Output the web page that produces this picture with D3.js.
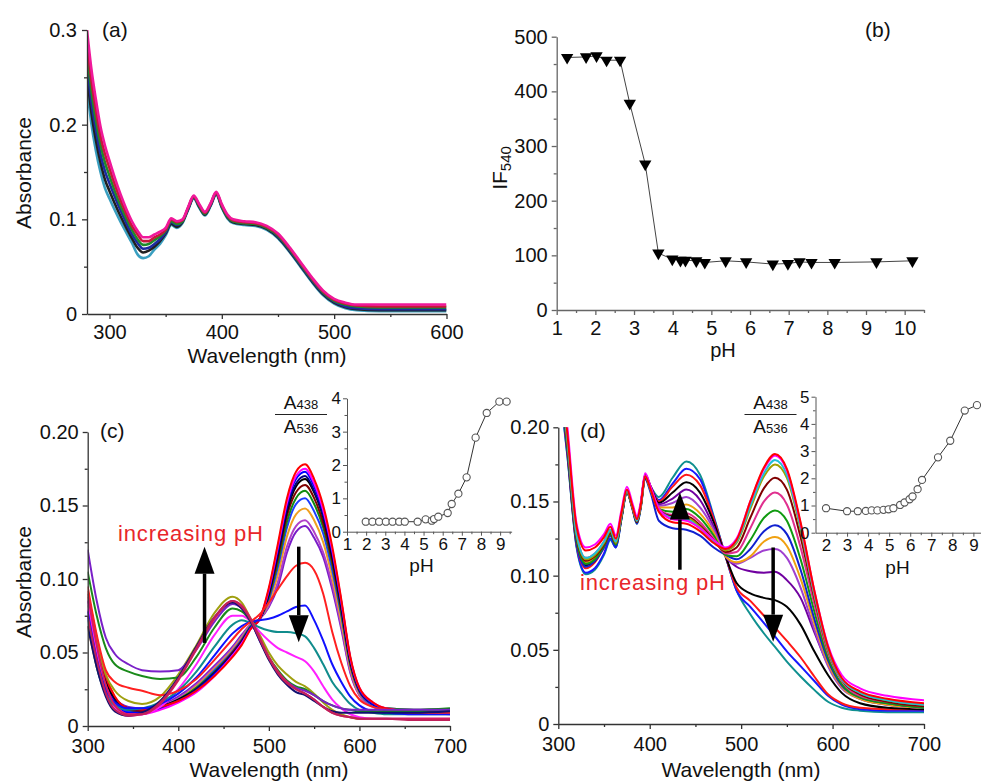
<!DOCTYPE html>
<html>
<head>
<meta charset="utf-8">
<script src="https://cdn.jsdelivr.net/npm/d3@7"></script>
<style>
  body { margin: 0; background: #fff; }
  svg { font-family: "Liberation Sans", Arial, Helvetica, sans-serif; }
</style>
</head>
<body>
<script>
// ---------- panel (a): absorbance spectra ----------
const wlA = [280, 284, 288, 292, 296, 300, 305, 310, 315, 320, 325, 330, 335, 340, 345, 350, 355, 360, 365, 370, 375, 380, 385, 390, 395, 400, 405, 410, 420, 430, 440, 450, 460, 470, 480, 490, 500, 510, 520, 540, 560, 580, 600];
const specA = [
  [0.240,0.200,0.172,0.150,0.133,0.122,0.109,0.097,0.086,0.075,0.063,0.059,0.061,0.068,0.074,0.083,0.094,0.091,0.096,0.110,0.122,0.112,0.104,0.114,0.126,0.112,0.101,0.096,0.094,0.093,0.089,0.080,0.066,0.050,0.034,0.020,0.011,0.006,0.004,0.003,0.003,0.003,0.003],
  [0.252,0.212,0.183,0.160,0.142,0.130,0.116,0.103,0.091,0.080,0.070,0.065,0.067,0.071,0.077,0.085,0.095,0.092,0.097,0.111,0.123,0.113,0.105,0.115,0.127,0.113,0.102,0.097,0.095,0.094,0.090,0.081,0.067,0.051,0.035,0.021,0.012,0.007,0.005,0.004,0.004,0.004,0.004],
  [0.264,0.223,0.194,0.169,0.151,0.138,0.123,0.109,0.096,0.084,0.075,0.069,0.070,0.074,0.079,0.086,0.097,0.094,0.098,0.111,0.123,0.114,0.106,0.115,0.127,0.114,0.103,0.098,0.096,0.095,0.091,0.082,0.068,0.052,0.036,0.022,0.013,0.008,0.006,0.005,0.005,0.005,0.005],
  [0.276,0.235,0.204,0.179,0.160,0.146,0.129,0.114,0.101,0.089,0.079,0.073,0.074,0.078,0.082,0.088,0.098,0.095,0.098,0.112,0.124,0.114,0.106,0.116,0.128,0.114,0.103,0.098,0.096,0.095,0.091,0.083,0.069,0.053,0.037,0.023,0.014,0.010,0.008,0.007,0.007,0.007,0.007],
  [0.288,0.246,0.215,0.188,0.169,0.154,0.136,0.120,0.106,0.093,0.084,0.077,0.077,0.081,0.084,0.089,0.100,0.097,0.099,0.112,0.124,0.115,0.107,0.116,0.128,0.115,0.104,0.099,0.097,0.096,0.092,0.084,0.070,0.054,0.038,0.024,0.015,0.011,0.009,0.008,0.008,0.008,0.008],
  [0.300,0.258,0.226,0.198,0.178,0.162,0.143,0.126,0.111,0.098,0.088,0.081,0.081,0.084,0.087,0.091,0.101,0.098,0.100,0.113,0.125,0.116,0.108,0.117,0.129,0.116,0.105,0.100,0.098,0.097,0.093,0.085,0.071,0.055,0.039,0.025,0.016,0.012,0.010,0.010,0.010,0.010,0.010]
];
const colorsA = ['#3a9fc0', '#202020', '#1c2aa0', '#1f8a2a', '#c8163c', '#f0189a'];

// ---------- panel (b): IF540 vs pH ----------
const phB = [1.27, 1.76, 2.03, 2.29, 2.64, 2.89, 3.29, 3.63, 3.99, 4.2, 4.33, 4.61, 4.83, 5.37, 5.9, 6.59, 6.98, 7.28, 7.59, 8.19, 9.27, 10.2];
const ifB = [462, 463, 465, 457, 457, 378, 267, 104, 93, 91, 91, 90, 87, 90, 88, 84, 85, 88, 87, 87, 88, 90];

// ---------- panel (c): spectra ----------
const wlC = [300, 310, 320, 330, 345, 360, 380, 400, 420, 440, 460, 470, 480, 490, 500, 510, 520, 530, 540, 550, 560, 570, 580, 590, 600, 615, 630, 660, 700];
const specC = [
  [0.086,0.054,0.031,0.019,0.013,0.012,0.014,0.020,0.029,0.041,0.054,0.062,0.069,0.073,0.081,0.095,0.118,0.132,0.136,0.128,0.115,0.093,0.066,0.036,0.021,0.014,0.012,0.011,0.011],
  [0.079,0.048,0.026,0.015,0.010,0.010,0.013,0.019,0.028,0.040,0.053,0.061,0.069,0.073,0.082,0.098,0.122,0.136,0.140,0.132,0.118,0.096,0.068,0.037,0.021,0.013,0.010,0.009,0.008],
  [0.068,0.040,0.022,0.013,0.009,0.009,0.012,0.018,0.027,0.039,0.052,0.060,0.068,0.073,0.084,0.103,0.129,0.144,0.148,0.140,0.125,0.101,0.071,0.039,0.022,0.014,0.010,0.009,0.009],
  [0.074,0.045,0.025,0.015,0.010,0.010,0.013,0.018,0.026,0.038,0.051,0.059,0.068,0.073,0.086,0.108,0.135,0.151,0.155,0.146,0.131,0.106,0.075,0.041,0.023,0.014,0.011,0.010,0.010],
  [0.082,0.050,0.028,0.017,0.011,0.010,0.013,0.018,0.026,0.037,0.050,0.058,0.068,0.073,0.088,0.111,0.139,0.155,0.160,0.151,0.135,0.110,0.077,0.042,0.024,0.015,0.012,0.011,0.012],
  [0.088,0.055,0.030,0.018,0.011,0.010,0.012,0.017,0.025,0.036,0.050,0.058,0.067,0.073,0.089,0.114,0.143,0.159,0.164,0.155,0.138,0.112,0.079,0.043,0.024,0.015,0.011,0.009,0.009],
  [0.085,0.052,0.029,0.018,0.012,0.011,0.013,0.018,0.025,0.036,0.049,0.057,0.067,0.073,0.090,0.117,0.146,0.163,0.168,0.159,0.142,0.115,0.081,0.044,0.025,0.015,0.011,0.010,0.010],
  [0.078,0.048,0.027,0.017,0.012,0.011,0.013,0.017,0.025,0.036,0.049,0.057,0.067,0.073,0.091,0.118,0.148,0.165,0.170,0.160,0.143,0.117,0.082,0.045,0.025,0.015,0.011,0.010,0.011],
  [0.075,0.046,0.025,0.014,0.009,0.009,0.012,0.017,0.024,0.035,0.048,0.056,0.067,0.073,0.092,0.121,0.151,0.168,0.173,0.163,0.146,0.119,0.084,0.046,0.025,0.015,0.011,0.010,0.010],
  [0.080,0.050,0.027,0.015,0.008,0.008,0.011,0.016,0.023,0.034,0.048,0.056,0.066,0.073,0.093,0.122,0.152,0.170,0.175,0.165,0.147,0.120,0.085,0.046,0.026,0.016,0.012,0.010,0.010],
  [0.092,0.060,0.034,0.020,0.012,0.011,0.013,0.017,0.024,0.034,0.047,0.055,0.066,0.073,0.094,0.124,0.155,0.173,0.178,0.168,0.150,0.122,0.086,0.047,0.026,0.016,0.012,0.010,0.010],
  [0.090,0.058,0.035,0.024,0.017,0.015,0.020,0.035,0.055,0.077,0.088,0.084,0.073,0.062,0.050,0.041,0.035,0.030,0.027,0.022,0.016,0.011,0.008,0.006,0.005,0.005,0.005,0.005,0.005],
  [0.085,0.050,0.025,0.012,0.007,0.008,0.013,0.025,0.042,0.062,0.075,0.075,0.071,0.064,0.058,0.053,0.050,0.047,0.044,0.037,0.027,0.018,0.012,0.008,0.006,0.005,0.005,0.005,0.005],
  [0.072,0.040,0.022,0.014,0.011,0.012,0.016,0.024,0.037,0.054,0.069,0.072,0.070,0.067,0.065,0.064,0.064,0.063,0.061,0.053,0.042,0.030,0.022,0.015,0.011,0.009,0.008,0.008,0.008],
  [0.078,0.046,0.025,0.016,0.012,0.012,0.015,0.022,0.033,0.048,0.063,0.068,0.071,0.072,0.073,0.075,0.078,0.081,0.082,0.072,0.058,0.042,0.030,0.020,0.014,0.010,0.009,0.008,0.008],
  [0.095,0.062,0.038,0.030,0.026,0.024,0.021,0.024,0.032,0.045,0.059,0.066,0.071,0.076,0.084,0.093,0.102,0.109,0.111,0.106,0.090,0.064,0.043,0.027,0.018,0.013,0.011,0.009,0.009],
  [0.105,0.075,0.053,0.042,0.037,0.034,0.032,0.033,0.047,0.067,0.080,0.078,0.071,0.059,0.047,0.038,0.031,0.027,0.025,0.021,0.017,0.014,0.012,0.011,0.010,0.010,0.010,0.010,0.011],
  [0.120,0.085,0.060,0.049,0.042,0.038,0.037,0.038,0.052,0.071,0.083,0.080,0.071,0.058,0.046,0.036,0.030,0.026,0.024,0.021,0.017,0.014,0.012,0.011,0.011,0.011,0.011,0.011,0.011],
  [0.068,0.040,0.020,0.010,0.007,0.009,0.017,0.033,0.054,0.074,0.084,0.080,0.071,0.058,0.045,0.035,0.028,0.023,0.021,0.017,0.013,0.010,0.009,0.009,0.009,0.009,0.009,0.009,0.010],
  [0.090,0.055,0.028,0.014,0.008,0.008,0.015,0.031,0.052,0.073,0.085,0.082,0.073,0.060,0.047,0.037,0.030,0.025,0.022,0.018,0.013,0.009,0.007,0.006,0.005,0.005,0.005,0.005,0.005],
  [0.075,0.045,0.022,0.011,0.007,0.008,0.016,0.032,0.053,0.074,0.085,0.081,0.072,0.059,0.046,0.036,0.029,0.025,0.022,0.018,0.013,0.009,0.007,0.006,0.005,0.005,0.005,0.004,0.004]
];
const colorsC = ['#7a1cc8', '#b040c8', '#f0a020', '#1a3cff', '#108a10', '#800000', '#000000', '#000080', '#0000ff', '#ff00ff', '#ff0000',
                 '#a0a010', '#ff20ff', '#108c8c', '#1010ff', '#ff2020', '#1a8a1a', '#7a20c8', '#101070', '#d81b60', '#c0205a'];

// inset (c): A438/A536 ratio
const phCi = [1.98, 2.33, 2.68, 3.03, 3.38, 3.73, 4.02, 4.69, 5.11, 5.43, 5.55, 5.77, 6.26, 6.47, 6.82, 7.25, 7.72, 8.3, 8.96, 9.34];
const ratioCi = [0.3, 0.3, 0.3, 0.3, 0.3, 0.3, 0.3, 0.3, 0.37, 0.33, 0.38, 0.45, 0.56, 0.83, 1.14, 1.63, 2.82, 3.56, 3.9, 3.9];

// ---------- panel (d): spectra ----------
const wlD = [300, 310, 320, 330, 340, 350, 357, 363, 369, 375, 381, 386, 390, 395, 401, 410, 425, 440, 455, 470, 483, 495, 510, 525, 537, 550, 565, 580, 595, 610, 630, 660, 700];
const specD = [
  [0.236,0.180,0.119,0.101,0.104,0.114,0.124,0.119,0.138,0.156,0.146,0.135,0.145,0.166,0.160,0.153,0.166,0.177,0.168,0.140,0.113,0.090,0.074,0.061,0.052,0.042,0.032,0.023,0.015,0.011,0.009,0.008,0.008],
  [0.238,0.181,0.120,0.102,0.105,0.115,0.125,0.119,0.138,0.156,0.146,0.136,0.146,0.167,0.160,0.151,0.162,0.172,0.165,0.139,0.113,0.090,0.079,0.068,0.059,0.049,0.039,0.029,0.019,0.013,0.010,0.009,0.009],
  [0.242,0.183,0.121,0.105,0.109,0.119,0.127,0.121,0.139,0.157,0.147,0.137,0.147,0.168,0.160,0.150,0.160,0.168,0.161,0.138,0.113,0.092,0.083,0.073,0.065,0.056,0.045,0.032,0.020,0.014,0.011,0.010,0.010],
  [0.244,0.185,0.123,0.107,0.110,0.120,0.128,0.121,0.139,0.157,0.147,0.137,0.147,0.168,0.160,0.149,0.156,0.163,0.156,0.136,0.113,0.095,0.088,0.085,0.0835,0.079,0.067,0.049,0.033,0.021,0.014,0.011,0.010],
  [0.245,0.186,0.124,0.108,0.111,0.121,0.129,0.122,0.140,0.157,0.147,0.137,0.147,0.167,0.159,0.148,0.152,0.158,0.151,0.133,0.113,0.106,0.103,0.102,0.1026,0.097,0.085,0.062,0.040,0.026,0.017,0.013,0.011],
  [0.247,0.188,0.126,0.110,0.113,0.122,0.130,0.122,0.140,0.157,0.147,0.137,0.147,0.167,0.159,0.147,0.149,0.153,0.146,0.131,0.113,0.108,0.112,0.117,0.118,0.112,0.092,0.064,0.039,0.024,0.017,0.013,0.011],
  [0.246,0.187,0.125,0.109,0.112,0.121,0.129,0.122,0.140,0.157,0.146,0.137,0.146,0.166,0.158,0.146,0.146,0.148,0.142,0.129,0.113,0.109,0.113,0.123,0.126,0.120,0.098,0.068,0.041,0.025,0.017,0.013,0.011],
  [0.243,0.184,0.122,0.106,0.110,0.119,0.127,0.120,0.139,0.156,0.145,0.135,0.145,0.165,0.156,0.137,0.132,0.131,0.127,0.119,0.114,0.111,0.118,0.130,0.134,0.128,0.104,0.071,0.043,0.026,0.018,0.014,0.011],
  [0.245,0.186,0.124,0.108,0.111,0.120,0.128,0.121,0.139,0.156,0.146,0.136,0.146,0.166,0.158,0.145,0.143,0.145,0.139,0.127,0.114,0.113,0.124,0.139,0.144,0.137,0.111,0.076,0.045,0.027,0.018,0.014,0.011],
  [0.250,0.192,0.128,0.112,0.115,0.123,0.131,0.123,0.141,0.157,0.147,0.137,0.147,0.167,0.158,0.145,0.141,0.142,0.136,0.125,0.115,0.116,0.132,0.150,0.156,0.148,0.119,0.081,0.048,0.029,0.019,0.015,0.012],
  [0.247,0.189,0.126,0.110,0.113,0.121,0.129,0.122,0.140,0.157,0.146,0.136,0.146,0.166,0.158,0.144,0.140,0.140,0.134,0.124,0.116,0.119,0.139,0.159,0.166,0.158,0.126,0.085,0.050,0.030,0.020,0.015,0.012],
  [0.248,0.190,0.127,0.111,0.114,0.122,0.130,0.122,0.140,0.157,0.146,0.137,0.146,0.167,0.158,0.144,0.139,0.139,0.133,0.123,0.117,0.122,0.145,0.167,0.175,0.166,0.131,0.087,0.050,0.030,0.021,0.016,0.013],
  [0.250,0.192,0.128,0.112,0.115,0.123,0.131,0.123,0.141,0.157,0.147,0.137,0.147,0.167,0.158,0.144,0.139,0.138,0.132,0.123,0.118,0.123,0.147,0.169,0.178,0.168,0.133,0.088,0.051,0.030,0.021,0.016,0.013],
  [0.260,0.200,0.135,0.119,0.121,0.128,0.135,0.127,0.144,0.160,0.149,0.140,0.149,0.169,0.160,0.145,0.138,0.137,0.132,0.124,0.119,0.125,0.150,0.172,0.181,0.171,0.135,0.090,0.053,0.033,0.024,0.019,0.016],
  [0.255,0.195,0.133,0.117,0.119,0.126,0.133,0.125,0.142,0.158,0.147,0.138,0.147,0.167,0.158,0.143,0.136,0.135,0.130,0.122,0.118,0.124,0.150,0.173,0.182,0.172,0.136,0.090,0.052,0.031,0.022,0.017,0.014]
];
const colorsD = ['#109090', '#1818ff', '#ff1818', '#000000', '#7000a0', '#a040d0', '#f0a010', '#1020d0', '#109a10', '#e0308f', '#800000', '#a0a000', '#20c0d8', '#ff00ff', '#ff0000'];

// inset (d): A438/A536 ratio
const phDi = [2.0, 3.0, 3.51, 3.89, 4.17, 4.44, 4.73, 4.97, 5.2, 5.52, 5.73, 5.97, 6.11, 6.35, 6.56, 7.32, 7.9, 8.59, 9.17];
const ratioDi = [0.90, 0.79, 0.79, 0.80, 0.82, 0.82, 0.84, 0.86, 0.90, 1.02, 1.11, 1.23, 1.33, 1.60, 1.94, 2.77, 3.38, 4.49, 4.69];

// arrows (data units) and tick labels
const arrowsC = [{ x: 429, from: 0.0565, to: 0.122 }, { x: 533, from: 0.122, to: 0.057 }];
const arrowsD = [{ x: 433, from: 0.104, to: 0.156 }, { x: 535, from: 0.119, to: 0.0555 }];
const ticksAbsC = [0, 0.05, 0.10, 0.15, 0.20];
const tickLabelsAbsC = ['0', '0.05', '0.10', '0.15', '0.20'];

// ---------- drawing ----------
const svg = d3.select('body').append('svg').attr('width', 981).attr('height', 783);
const defs = svg.append('defs');

function addAxis(g, scale, side, major, minor, labels, cfg) {
    const gen = side === 'bottom' ? d3.axisBottom : d3.axisLeft;
    const pos = side === 'bottom' ? `translate(0,${cfg.at})` : `translate(${cfg.at},0)`;
    const minorG = g.append('g').attr('transform', pos)
        .call(gen(scale).tickValues(minor).tickSize(cfg.minor).tickSizeOuter(0).tickFormat(''));
    minorG.select('.domain').remove();
    const majorG = g.append('g').attr('transform', pos)
        .call(gen(scale).tickValues(major).tickSize(cfg.major).tickSizeOuter(0).tickPadding(cfg.pad)
            .tickFormat((d, i) => labels ? labels[i] : d));
    [minorG, majorG].forEach(a => {
        a.attr('font-family', null).attr('font-size', cfg.fs);
        a.selectAll('line').attr('stroke', cfg.color).attr('stroke-width', cfg.width);
    });
    majorG.select('.domain').attr('stroke', cfg.color).attr('stroke-width', cfg.width);
    majorG.selectAll('text').attr('fill', '#111');
}

function clip(id, x, y) {
    defs.append('clipPath').attr('id', id).append('rect')
        .attr('x', x.range()[0]).attr('y', y.range()[1])
        .attr('width', x.range()[1] - x.range()[0]).attr('height', y.range()[0] - y.range()[1]);
}

function drawSpectra(g, x, y, wl, rows, colors, sw) {
    const line = d3.line().x((d, i) => x(wl[i])).y(d => y(d)).curve(d3.curveMonotoneX);
    g.selectAll('path.spec').data(rows).join('path')
        .attr('class', 'spec')
        .attr('fill', 'none')
        .attr('stroke', (d, i) => colors[i])
        .attr('stroke-width', sw)
        .attr('stroke-linejoin', 'round')
        .attr('d', line);
}

function label(g, txt, x, y, fs, opts = {}) {
    const t = g.append('text').attr('x', x).attr('y', y).attr('font-size', fs)
        .attr('text-anchor', opts.anchor || 'start').attr('fill', opts.fill || '#111').text(txt);
    if (opts.rotate) t.attr('transform', `rotate(-90,${x},${y})`);
    return t;
}

function drawArrows(g, x, y, arrows) {
    arrows.forEach(a => {
        const xp = x(a.x), y0 = y(a.from), y1 = y(a.to);
        const dir = y1 < y0 ? 1 : -1;
        const headLen = 27, half = 10;
        g.append('line').attr('x1', xp).attr('x2', xp).attr('y1', y0).attr('y2', y1 + dir * headLen)
            .attr('stroke', '#000').attr('stroke-width', 3.5);
        g.append('path')
            .attr('d', `M${xp},${y1} L${xp - half},${y1 + dir * headLen} L${xp + half},${y1 + dir * headLen} Z`)
            .attr('fill', '#000');
    });
}

function fraction(g, cx) {
    const top = g.append('text').attr('x', cx).attr('y', 409).attr('text-anchor', 'middle').attr('font-size', 19).attr('fill', '#111');
    top.append('tspan').text('A');
    top.append('tspan').attr('font-size', 13).text('438');
    g.append('line').attr('x1', cx - 26).attr('x2', cx + 26).attr('y1', 414.5).attr('y2', 414.5)
        .attr('stroke', '#222').attr('stroke-width', 1.2);
    const bot = g.append('text').attr('x', cx).attr('y', 433).attr('text-anchor', 'middle').attr('font-size', 19).attr('fill', '#111');
    bot.append('tspan').text('A');
    bot.append('tspan').attr('font-size', 13).text('536');
}

function drawInset(g, x, y, ph, ratio, xMajor, xMinor, yMajor, yMinor) {
    const cfg = { minor: 2.5, major: 4, pad: 2, fs: 17, color: '#555', width: 1 };
    addAxis(g, x, 'bottom', xMajor, xMinor, null, Object.assign({ at: y.range()[0] }, cfg));
    addAxis(g, y, 'left', yMajor, yMinor, null, Object.assign({ at: x.range()[0] }, cfg));
    const line = d3.line().x((d, i) => x(ph[i])).y(d => y(d));
    g.append('path').datum(ratio).attr('fill', 'none').attr('stroke', '#333').attr('stroke-width', 1).attr('d', line);
    g.selectAll('circle.pt').data(ratio).join('circle').attr('class', 'pt')
        .attr('cx', (d, i) => x(ph[i])).attr('cy', d => y(d)).attr('r', 3.6)
        .attr('fill', '#fff').attr('stroke', '#555').attr('stroke-width', 1.1);
}

const mainCfg = { minor: 3, major: 5, fs: 20, color: '#333', width: 1.3 };

// panel (a)
{
    const g = svg.append('g');
    const x = d3.scaleLinear([280, 600], [87, 446.5]);
    const y = d3.scaleLinear([0, 0.3], [314, 30]);
    clip('clipA', x, y);
    drawSpectra(g.append('g').attr('clip-path', 'url(#clipA)'), x, y, wlA, specA, colorsA, 2.6);
    addAxis(g, x, 'bottom', [300, 400, 500, 600], [350, 450, 550], null, Object.assign({ at: 314, pad: 6 }, mainCfg));
    addAxis(g, y, 'left', [0, 0.1, 0.2, 0.3], [0.05, 0.15, 0.25], ['0', '0.1', '0.2', '0.3'], Object.assign({ at: 87, pad: 5 }, mainCfg));
    label(g, '(a)', 102, 37, 21);
    label(g, 'Absorbance', 31, 173, 21, { anchor: 'middle', rotate: true });
    label(g, 'Wavelength (nm)', 267, 363, 21, { anchor: 'middle' });
}

// panel (b)
{
    const g = svg.append('g');
    const x = d3.scaleLinear([1, 10.5], [556.7, 924]);
    const y = d3.scaleLinear([0, 500], [310, 36.7]);
    const cfg = Object.assign({}, mainCfg, { color: '#666' });
    addAxis(g, x, 'bottom', d3.range(1, 11), d3.range(1.5, 10.6, 1), null, Object.assign({ at: 310, pad: 6 }, cfg));
    addAxis(g, y, 'left', [0, 100, 200, 300, 400, 500], [50, 150, 250, 350, 450], null, Object.assign({ at: 556.7, pad: 4 }, cfg));
    const line = d3.line().x((d, i) => x(phB[i])).y(d => y(d));
    g.append('path').datum(ifB).attr('fill', 'none').attr('stroke', '#444').attr('stroke-width', 1).attr('d', line);
    const tri = d3.symbol(d3.symbolTriangle, 66);
    g.selectAll('path.tri').data(ifB).join('path').attr('class', 'tri')
        .attr('d', tri)
        .attr('transform', (d, i) => `translate(${x(phB[i])},${y(d)}) rotate(180)`)
        .attr('fill', '#000');
    label(g, '(b)', 865, 37, 21);
    label(g, 'pH', 723, 357, 20, { anchor: 'middle' });
    const t = label(g, 'IF', 507, 168, 21, { anchor: 'middle', rotate: true });
    t.append('tspan').attr('font-size', 15).attr('dy', 4).text('540');
}

// panel (c)
{
    const g = svg.append('g');
    const x = d3.scaleLinear([300, 700], [87.7, 450]);
    const y = d3.scaleLinear([0, 0.2], [726, 432]);
    clip('clipC', x, y);
    drawSpectra(g.append('g').attr('clip-path', 'url(#clipC)'), x, y, wlC, specC, colorsC, 2);
    addAxis(g, x, 'bottom', [300, 400, 500, 600, 700], [350, 450, 550, 650], null, Object.assign({ at: 726, pad: 8 }, mainCfg));
    addAxis(g, y, 'left', ticksAbsC, [0.025, 0.075, 0.125, 0.175], tickLabelsAbsC, Object.assign({ at: 87.7, pad: 4 }, mainCfg));
    drawArrows(g, x, y, arrowsC);
    label(g, '(c)', 100, 438, 21);
    label(g, 'Absorbance', 31, 582, 21, { anchor: 'middle', rotate: true });
    label(g, 'Wavelength (nm)', 269, 777, 21, { anchor: 'middle' });
    label(g, 'increasing pH', 118, 541, 22, { fill: '#e8262a' }).attr('textLength', 145).attr('lengthAdjust', 'spacing');

    const xi = d3.scaleLinear([1, 9.6], [347, 511.6]);
    const yi = d3.scaleLinear([0, 4], [531.7, 398.3]);
    drawInset(g, xi, yi, phCi, ratioCi, d3.range(1, 10), d3.range(1.5, 9.6, 1), [0, 1, 2, 3, 4], [0.5, 1.5, 2.5, 3.5]);
    fraction(g, 301);
    label(g, 'pH', 421.5, 572, 19, { anchor: 'middle' });
}

// panel (d)
{
    const g = svg.append('g');
    const x = d3.scaleLinear([300, 700], [558.3, 924]);
    const y = d3.scaleLinear([0, 0.2], [724, 427.3]);
    clip('clipD', x, y);
    drawSpectra(g.append('g').attr('clip-path', 'url(#clipD)'), x, y, wlD, specD, colorsD, 2);
    addAxis(g, x, 'bottom', [300, 400, 500, 600, 700], [350, 450, 550, 650], null, Object.assign({ at: 724, pad: 8 }, mainCfg));
    addAxis(g, y, 'left', ticksAbsC, [0.025, 0.075, 0.125, 0.175], tickLabelsAbsC, Object.assign({ at: 558.3, pad: 4 }, mainCfg));
    drawArrows(g, x, y, arrowsD);
    label(g, '(d)', 580, 438, 21);
    label(g, 'Wavelength (nm)', 741, 777, 21, { anchor: 'middle' });
    label(g, 'increasing pH', 580, 590, 22, { fill: '#e8262a' }).attr('textLength', 145).attr('lengthAdjust', 'spacing');

    const xi = d3.scaleLinear([1.5, 9.4], [815.5, 981.8]);
    const yi = d3.scaleLinear([0, 5], [532.7, 396.7]);
    drawInset(g, xi, yi, phDi, ratioDi, d3.range(2, 10), d3.range(2.5, 9.4, 1), [0, 1, 2, 3, 4, 5], [0.5, 1.5, 2.5, 3.5, 4.5]);
    fraction(g, 770.5);
    label(g, 'pH', 897.5, 574, 19, { anchor: 'middle' });
}
</script>
</body>
</html>
